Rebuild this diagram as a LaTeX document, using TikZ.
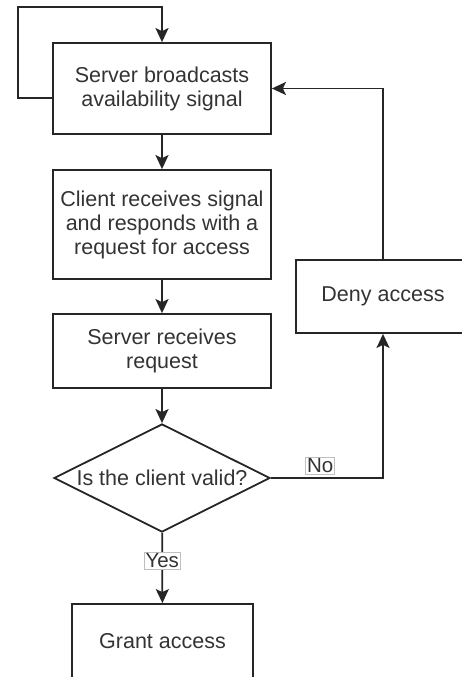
\documentclass[tikz,border=0pt]{standalone}
\usepackage{fontspec}
\setmainfont{Liberation Sans}
\usetikzlibrary{shapes.geometric,arrows.meta}
\begin{document}
\begin{tikzpicture}[x=1pt,y=-1pt,
  box/.style={draw=black!85,line width=1.8pt,minimum width=218pt,align=center,inner sep=0pt,text=black!80,font=\fontsize{21.5}{24}\selectfont},
  check/.style={diamond,draw=black!85,line width=1.8pt,aspect=2,minimum width=216pt,minimum height=108pt,inner sep=0pt,text=black!80,font=\fontsize{21.5}{24}\selectfont},
  flow/.style={draw=black!85,line width=1.8pt,-{Stealth[length=14pt,width=13pt,inset=3pt]}},
  tag/.style={fill=white,draw=black!25,line width=0.8pt,inner sep=1.5pt,text=black!80,font=\fontsize{20.5}{22}\selectfont}]
\clip (0,0) rectangle (462,677);

\node[box,minimum height=91pt] (srv) at (162,88.5) {Server broadcasts\\availability signal};
\node[box,minimum height=109pt] (cli) at (162,224.5) {Client receives signal\\and responds with a\\request for access};
\node[box,minimum height=74pt] (rcv) at (162,351) {Server receives\\request};
\node[check] (chk) at (162,478) {Is the client valid?};
\node[box,minimum width=181pt,minimum height=74pt] (grant) at (162.5,641) {Grant access};
\node[box,minimum width=174pt,minimum height=73pt] (deny) at (383,296.5) {Deny access};

\coordinate (lp) at (18,7);

\draw[flow] (srv) -- (cli);
\draw[flow] (cli) -- (rcv);
\draw[flow] (rcv) -- (chk);
\draw[flow] (chk) -- node[tag,pos=0.4] {Yes} (grant);
\draw[flow] (chk.east) -| node[tag,above=3pt,pos=0.22] {No} (deny);
\draw[flow] (deny.north) |- (srv.east);
\draw[flow] ([yshift=-9.5pt]srv.west) -| (lp) -| (srv.north);
\end{tikzpicture}
\end{document}
